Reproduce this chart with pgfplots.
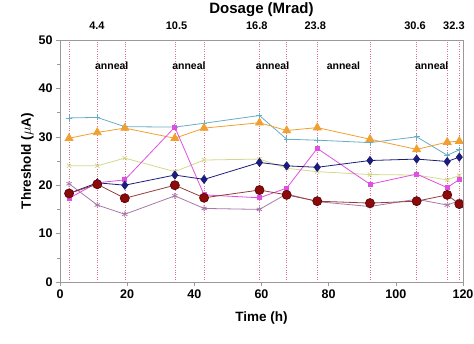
\documentclass[border=0pt]{standalone}
\usepackage{pgfplots}
\pgfplotsset{compat=1.18}
\usepackage{fontspec}
\setmainfont{Liberation Sans}
\usetikzlibrary{calc}
\definecolor{ccyan}{RGB}{106,172,200}
\definecolor{corange}{RGB}{240,160,48}
\definecolor{cyell}{RGB}{212,216,140}
\definecolor{cnavy}{RGB}{28,28,124}
\definecolor{cmag}{RGB}{224,80,224}
\definecolor{cred}{RGB}{140,10,10}
\definecolor{credl}{RGB}{150,60,60}
\definecolor{cpurp}{RGB}{168,120,168}
\definecolor{cgrid}{RGB}{225,110,140}
\begin{document}
\begin{tikzpicture}
\begin{axis}[name=ax,
  scale only axis, width=403pt, height=242pt,
  xmin=0, xmax=120, ymin=0, ymax=50,
  xtick={0,20,...,120}, ytick={0,10,...,50},
  minor ytick={5,15,...,45},
  tick align=outside, tick pos=left,
  major tick length=4pt, minor tick length=3pt,
  axis line style={gray!80, line width=0.8pt},
  every tick/.style={gray!80, line width=0.6pt},
  tick label style={font=\fontsize{12.5}{12}\selectfont\bfseries},
  /pgf/number format/assume math mode=true,
  xlabel={\fontsize{13.5}{13}\selectfont\bfseries Time (h)},
  ylabel={\fontsize{13.5}{13}\selectfont\bfseries Threshold ($\mu$A)},
  xlabel style={yshift=-2pt},
  ylabel style={yshift=-2pt},
  extra x ticks={2.7,11.1,19.3,34.2,42.9,59.4,67.5,76.6,92.3,106.2,115.3,118.9},
  extra x tick labels={},
  extra x tick style={grid=major, major tick length=0pt,
     major grid style={cgrid, dotted, line width=0.55pt}},
  clip=false,
]
\addplot[ccyan, line width=0.8pt, mark=+, mark size=3pt] coordinates {
(2.7,33.9)(11.1,34.0)(19.3,32.1)(34.2,32.0)(42.9,32.8)(59.4,34.4)(67.5,29.5)(76.6,29.3)(92.3,28.8)(106.2,30.0)(115.3,26.2)(118.9,27.3)};
\addplot[cyell, line width=0.8pt, mark=x, mark size=3pt] coordinates {
(2.7,24.0)(11.1,24.0)(19.3,25.6)(34.2,22.8)(42.9,25.2)(59.4,25.4)(67.5,23.5)(76.6,22.8)(92.3,22.2)(106.2,22.1)(115.3,21.1)(118.9,22.0)};
\addplot[corange, line width=0.8pt, mark=triangle*, mark size=4.5pt] coordinates {
(2.7,29.7)(11.1,30.9)(19.3,31.8)(34.2,29.7)(42.9,31.8)(59.4,32.9)(67.5,31.3)(76.6,31.9)(92.3,29.5)(106.2,27.4)(115.3,28.9)(118.9,29.1)};
\addplot[cpurp, line width=0.8pt, mark=asterisk, mark size=3pt] coordinates {
(2.7,20.3)(11.1,15.9)(19.3,14.0)(34.2,17.8)(42.9,15.2)(59.4,15.0)(67.5,18.2)(76.6,16.6)(92.3,15.6)(106.2,17.1)(115.3,15.9)(118.9,16.8)};
\addplot[cmag, line width=0.8pt, mark=square*, mark size=2pt] coordinates {
(2.7,17.3)(11.1,20.5)(19.3,21.1)(34.2,32.0)(42.9,18.0)(59.4,17.4)(67.5,19.4)(76.6,27.6)(92.3,20.2)(106.2,22.3)(115.3,19.5)(118.9,21.2)};
\addplot[cnavy, line width=0.8pt, mark=diamond*, mark size=4pt] coordinates {
(2.7,18.3)(11.1,20.5)(19.3,20.0)(34.2,22.1)(42.9,21.2)(59.4,24.7)(67.5,24.0)(76.6,23.7)(92.3,25.1)(106.2,25.4)(115.3,24.9)(118.9,25.8)};
\addplot[credl, line width=0.8pt, mark=*, mark size=4.5pt, mark options={fill=cred, draw=cred!70!black}] coordinates {
(2.7,18.3)(11.1,20.2)(19.3,17.3)(34.2,20.0)(42.9,17.4)(59.4,19.0)(67.5,18.0)(76.6,16.7)(92.3,16.3)(106.2,16.7)(115.3,18.0)(118.9,16.1)};
\tikzset{dose/.style={font=\fontsize{11}{11}\selectfont\bfseries, anchor=base},
         ann/.style={font=\fontsize{10.5}{10}\selectfont\bfseries}}
\node[dose] at (axis cs:11,52.1) {4.4};
\node[dose] at (axis cs:34.7,52.1) {10.5};
\node[dose] at (axis cs:58.6,52.1) {16.8};
\node[dose] at (axis cs:76,52.1) {23.8};
\node[dose] at (axis cs:105.7,52.1) {30.6};
\node[dose] at (axis cs:117.3,52.1) {32.3};
\node[ann] at (axis cs:15.4,44.6) {anneal};
\node[ann] at (axis cs:38.4,44.6) {anneal};
\node[ann] at (axis cs:63.3,44.6) {anneal};
\node[ann] at (axis cs:84.4,44.6) {anneal};
\node[ann] at (axis cs:110.7,44.6) {anneal};
\node[font=\fontsize{15}{15}\selectfont\bfseries] at (axis cs:60,56.2) {Dosage (Mrad)};
\end{axis}
\draw[gray!80, line width=0.8pt] (ax.south east) -- (ax.north east) -- (ax.north west);
\pgfresetboundingbox
\path[use as bounding box] ($(ax.south west)+(-60pt,-61pt)$) rectangle ($(ax.north east)+(11pt,40pt)$);
\end{tikzpicture}
\end{document}
